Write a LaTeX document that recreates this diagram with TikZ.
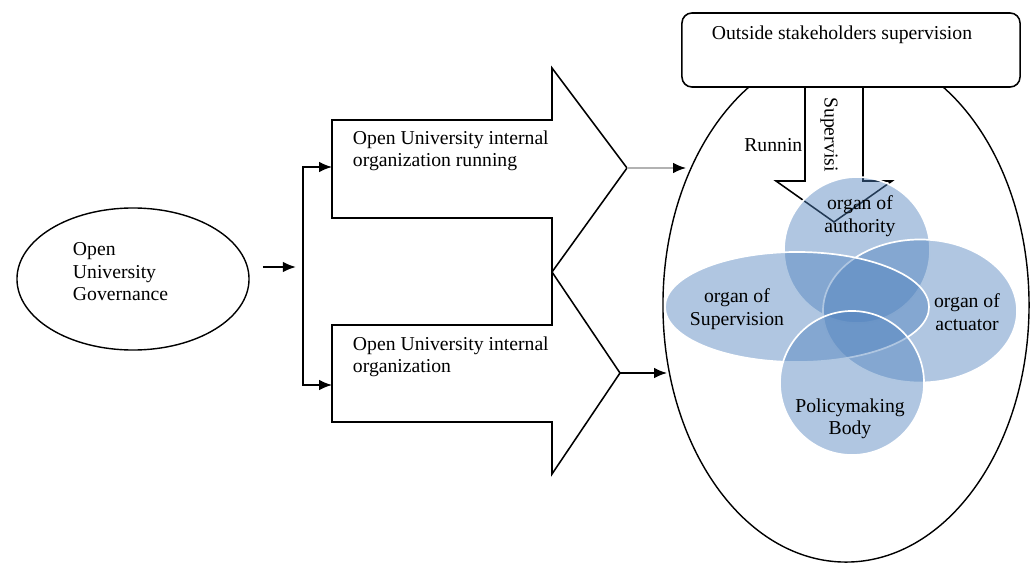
\documentclass[tikz,border=0pt]{standalone}
\usepackage{fontspec}
\setmainfont{Liberation Serif}
\usetikzlibrary{shapes.geometric,arrows.meta}
\definecolor{organBlue}{RGB}{79,129,189}

\begin{document}
\begin{tikzpicture}
	[x=0.025cm, y=-0.025cm, font=\fontsize{14}{16}\selectfont,
	oval/.style={ellipse, draw=black, line width=1pt, inner sep=0pt},
	organ/.style={fill=organBlue, fill opacity=0.45, draw=white, line width=1.2pt, inner sep=0pt},
	blockArrow/.style={draw=black, line width=1.1pt},
	link/.style={-{Latex[length=3.2mm,width=2.6mm]}, line width=1pt},
	greyLink/.style={-{Latex[length=3.2mm,width=2.6mm,black]}, draw=black!30, line width=1pt}]
	
	\useasboundingbox (0,0) rectangle (1032,564);
	
	% governance
	\node (gov) at ( 133,279 ) [oval, minimum width=5.8cm, minimum height=3.55cm] {};
	\node (govText) at ( 68,272 ) [anchor=west, align=left] {Open\\University\\Governance};
	\coordinate (fork) at ( 303,267 );
	\coordinate (runTail) at ( 332,167 );
	\coordinate (orgTail) at ( 332,385 );
	
	\draw [link, shorten <=0.33cm, shorten >=0.18cm] (gov.east |- fork) -- (fork);
	\draw [link] (fork) |- (runTail);
	\draw [link] (fork) |- (orgTail);
	
	% block arrows
	\coordinate (runTip) at ( 627,168 );
	\coordinate (orgTip) at ( 620,373 );
	\draw [blockArrow] (332,120) -- (552,120) -- (552,68) -- (runTip) -- (552,272) -- (552,218) -- (332,218) -- cycle;
	\draw [blockArrow] (332,325) -- (552,325) -- (552,272) -- (orgTip) -- (552,474) -- (552,422) -- (332,422) -- cycle;
	\node (runText) at ( 348,151 ) [anchor=west, align=left] {Open University internal\\organization running};
	\node (orgText) at ( 348,357 ) [anchor=west, align=left] {Open University internal\\organization};
	
	% university and stakeholders
	\node (campus) at ( 846,305 ) [oval, minimum width=9.15cm, minimum height=12.85cm] {};
	\node (outside) at ( 851,50 ) [rectangle, rounded corners=0.25cm, draw=black, line width=1.1pt, fill=white, minimum width=8.45cm, minimum height=1.85cm] {};
	\node (outsideText) at ( 842,35 ) {Outside stakeholders supervision};
	\coordinate (runIn) at ( 686,168 );
	\coordinate (orgIn) at ( 667,373 );
	
	\draw [greyLink] (runTip) -- (runIn);
	\draw [link] (orgTip) -- (orgIn);
	\draw [blockArrow] (805,87) -- (805,181) -- (776,181) -- (834,222) -- (892,181) -- (863,181) -- (863,87);
	\node (running) at ( 804,145 ) [anchor=east, inner sep=1pt] {Runnin};
	\node (supervision) at ( 829,97 ) [anchor=west, rotate=-90, inner sep=0pt] {Supervisi};
	
	% organs
	\node (authority) at ( 857,250 ) [organ, circle, minimum size=3.65cm] {};
	\node (actuator) at ( 920,311 ) [organ, ellipse, minimum width=4.85cm, minimum height=3.575cm] {};
	\node (supervisor) at ( 797,307 ) [organ, ellipse, minimum width=6.6cm, minimum height=2.75cm] {};
	\node (policy) at ( 852,383 ) [organ, circle, minimum size=3.6cm] {};
	
	\node (authorityText) at ( 860,216 ) [align=center] {organ of\\authority};
	\node (supervisorText) at ( 737,309 ) [align=center] {organ of\\Supervision};
	\node (actuatorText) at ( 967,312 ) [align=center] {organ of\\actuator};
	\node (policyText) at ( 850,419 ) [align=center] {Policymaking\\Body};

\end{tikzpicture}
\end{document}
